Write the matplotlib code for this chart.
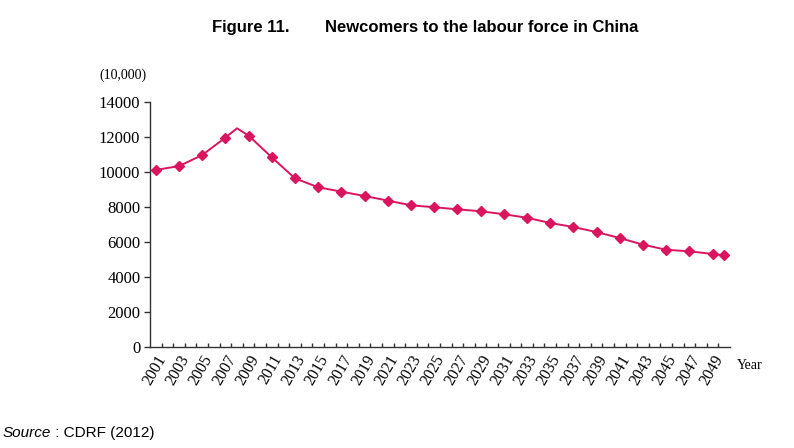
import matplotlib
matplotlib.use("Agg")
import matplotlib.pyplot as plt
from matplotlib.ticker import FixedLocator, NullFormatter

# ---- data (values in units of 10,000 persons) ----
years = [2001, 2003, 2005, 2007, 2008, 2009, 2011, 2013, 2015, 2017, 2019,
         2021, 2023, 2025, 2027, 2029, 2031, 2033, 2035, 2037, 2039, 2041,
         2043, 2045, 2047, 2049, 2050]
newcomers = [10100, 10320, 10950, 11950, 12480, 12060, 10820, 9620, 9110,
             8860, 8610, 8350, 8080, 7970, 7850, 7740, 7570, 7370, 7070,
             6840, 6550, 6210, 5830, 5540, 5450, 5300, 5220]
unmarked_years = [2008]
tick_label_years = list(range(2001, 2050, 2))
y_ticks = [0, 2000, 4000, 6000, 8000, 10000, 12000, 14000]

color = "#DA1560"
serif = "Liberation Serif"
sans = "Liberation Sans"

fig = plt.figure(figsize=(7.94, 4.48), dpi=100)
ax = fig.add_axes([150/794, 1-346.7/448, 580/794, 245/448])

marked = [i for i, y in enumerate(years) if y not in unmarked_years]
ax.plot(years, newcomers, color=color, lw=1.4, marker="D", ms=5,
        markevery=marked, markerfacecolor=color, markeredgecolor=color)

ax.set_xlim(2000.5, 2050.5)
ax.set_ylim(0, 14000)

for s in ["top", "right"]:
    ax.spines[s].set_visible(False)
for s in ["left", "bottom"]:
    ax.spines[s].set_linewidth(1.0)
    ax.spines[s].set_color("#333333")

ax.set_yticks(y_ticks)
ax.set_yticklabels([str(v) for v in y_ticks], fontfamily=serif, fontsize=12)
ax.tick_params(axis="y", direction="out", length=4, width=1, color="#333333", pad=3)

# category boundaries as minor ticks, labels at odd years
ax.xaxis.set_minor_locator(FixedLocator([y + 0.5 for y in range(2001, 2050)]))
ax.xaxis.set_minor_formatter(NullFormatter())
ax.set_xticks(tick_label_years)
ax.set_xticklabels([str(y) for y in tick_label_years], rotation=60,
                   ha="right", va="top", rotation_mode="anchor",
                   fontfamily=serif, fontsize=11.5)
ax.tick_params(axis="x", which="major", length=0, pad=4)
ax.tick_params(axis="x", which="minor", direction="in", length=3, width=1,
               color="#333333")

fig.text(99/794, 1-75/448, "(10,000)", fontfamily=serif, fontsize=10,
         va="center", ha="left")
fig.text(737/794, 1-365/448, "Year", fontfamily=serif, fontsize=10,
         va="center", ha="left")

fig.text(212/794, 1-32/448, "Figure 11.", fontfamily=sans, fontweight="bold",
         fontsize=12, va="baseline", ha="left")
fig.text(325/794, 1-32/448, "Newcomers to the labour force in China",
         fontfamily=sans, fontweight="bold", fontsize=12, va="baseline", ha="left")

src = fig.text(3/794, 1-437/448, "Source", fontfamily=sans, fontstyle="italic",
               fontsize=11, va="baseline", ha="left")
ax.annotate(" : CDRF (2012)", xy=(1, 0), xycoords=src, va="bottom",
            ha="left", fontfamily=sans, fontsize=11, annotation_clip=False)

fig.savefig("out.png", dpi=100)
